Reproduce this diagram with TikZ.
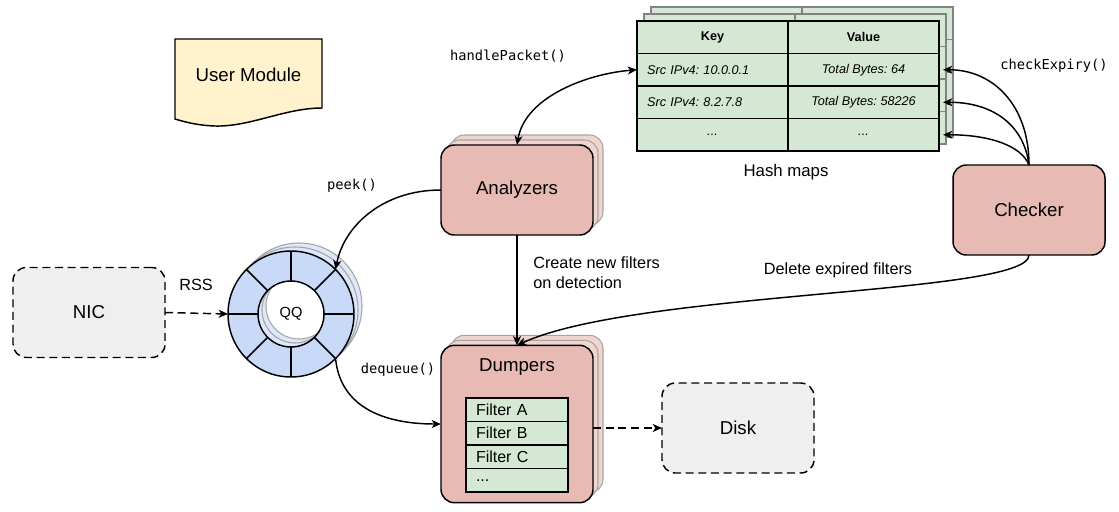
\documentclass[tikz,border=0pt]{standalone}
\usepackage{fontspec}
\setmainfont{Liberation Sans}
\newfontfamily\monofont{DejaVu Sans Mono}
\usetikzlibrary{arrows.meta,shadows}
\definecolor{salmon}{RGB}{232,186,180}
\definecolor{salmonback}{RGB}{242,212,207}
\definecolor{greenfill}{RGB}{213,232,212}
\definecolor{bluefill}{RGB}{201,218,248}
\definecolor{blueback}{RGB}{222,232,250}
\definecolor{grayfill}{RGB}{239,239,239}
\definecolor{docfill}{RGB}{255,242,204}
\definecolor{backstroke}{RGB}{165,165,165}
\definecolor{tabback}{RGB}{130,130,130}
\begin{document}
\frenchspacing
\begin{tikzpicture}[x=0.75pt,y=-0.75pt,
  font=\fontsize{14pt}{16pt}\selectfont,
  plainbox/.style={draw, line width=1.1pt, rounded corners=10pt, fill=salmon,
    minimum width=114pt, minimum height=67.5pt, inner sep=0pt, outer sep=0pt},
  stackbox/.style={plainbox,
    general shadow={shadow xshift=7.5pt, shadow yshift=7.5pt, fill=salmonback, draw=backstroke, line width=0.8pt},
    general shadow={shadow xshift=3.75pt, shadow yshift=3.75pt, fill=salmonback, draw=backstroke, line width=0.8pt}},
  dashbox/.style={draw, line width=1.1pt, dash pattern=on 6pt off 3.5pt, rounded corners=10pt, fill=grayfill,
    minimum width=114pt, minimum height=67.5pt, inner sep=0pt, outer sep=0pt},
  cell/.style={draw, line width=1.1pt, fill=greenfill, minimum width=113.25pt, minimum height=24.4pt,
    inner sep=0pt, outer sep=0pt, font=\fontsize{9.5pt}{11pt}\selectfont},
  keycell/.style={cell, text width=98pt, inner xsep=7.6pt, align=left, font=\fontsize{9.5pt}{11pt}\selectfont\itshape},
  valcell/.style={cell, font=\fontsize{9.5pt}{11pt}\selectfont\itshape},
  fcell/.style={draw, line width=1.1pt, fill=greenfill, minimum width=76.5pt, minimum height=17.6pt,
    text width=61.5pt, inner xsep=7.5pt, inner ysep=0pt, outer sep=0pt, align=left,
    font=\fontsize{12pt}{13pt}\selectfont},
  tip/.tip={Stealth[length=7pt,width=6pt,inset=2pt]},
  arr/.style={line width=1.1pt, -tip},
  dasharr/.style={arr, dash pattern=on 6pt off 3.5pt},
  lbl/.style={font=\fontsize{12.2pt}{15pt}\selectfont, inner sep=0pt},
  code/.style={font=\monofont\fontsize{10.3pt}{12pt}\selectfont, inner sep=0pt},
]
\useasboundingbox (0,0) rectangle (1119,511);

% ---------- User Module (document shape)
\draw[line width=1.1pt, fill=docfill] (175,39) -- (322,39) -- (322,108)
  .. controls (285,108) and (250,127) .. (215,126)
  .. controls (198,125.5) and (185,122) .. (175,119) -- cycle;
\node (um) at (248.5,75) {User Module};

% ---------- Hash maps (stacked tables)
\foreach \o in {14,7} {
  \begin{scope}[shift={(\o,-\o)}]
    \draw[tabback, line width=0.9pt, fill=greenfill] (637,21) rectangle (939,151);
    \draw[tabback, line width=0.9pt] (788,21) -- (788,151)
      (637,53.5) -- (939,53.5) (637,86) -- (939,86) (637,118.5) -- (939,118.5);
  \end{scope}
}
\node[cell] (k0) at (712.5,37.25) {\textbf{Key}};
\node[cell] (v0) at (863.5,37.25) {\textbf{Value}};
\node[keycell] (k1) at (712.5,69.75) {Src IPv4: 10.0.0.1};
\node[valcell] (v1) at (863.5,69.75) {Total Bytes: 64};
\node[keycell] (k2) at (712.5,102.25) {Src IPv4: 8.2.7.8};
\node[valcell] (v2) at (863.5,102.25) {Total Bytes: 58226};
\node[keycell, align=center] (k3) at (712.5,134.75) {...};
\node[valcell] (v3) at (863.5,134.75) {...};
\node[lbl, font=\fontsize{12.6pt}{15pt}\selectfont] (hm) at (786,172) {Hash maps};

% ---------- Boxes
\node[stackbox] (ana) at (517,190) {Analyzers};
\node[plainbox] (chk) at (1029,210) {Checker};
\node[stackbox, minimum height=118pt] (dump) at (517,424) {};
\node (dumplbl) at (517,367) {Dumpers};
\node[fcell] (f1) at (517,409.75) {Filter A};
\node[fcell] (f2) at (517,433.25) {Filter B};
\node[fcell] (f3) at (517,456.75) {Filter C};
\node[fcell] (f4) at (517,480.25) {...};
\node[dashbox] (nic) at (89,312.5) {NIC};
\node[dashbox] (disk) at (738,428) {Disk};

% ---------- Queue ring
\coordinate (qc) at (291,314);
\foreach \o in {8,4} {
  \draw[backstroke, line width=0.8pt, fill=blueback, even odd rule]
    ([shift={(\o,-\o)}]qc) circle[radius=47.25pt]
    ([shift={(\o,-\o)}]qc) circle[radius=24.75pt];
}
\draw[line width=1.1pt, fill=bluefill, even odd rule]
  (qc) circle[radius=47.25pt] (qc) circle[radius=24.75pt];
\foreach \a in {0,45,...,315}
  \draw[line width=1.1pt] ([shift={(\a:24.75pt)}]qc) -- ([shift={(\a:47.25pt)}]qc);
\node[circle, minimum size=94.5pt, inner sep=0pt, outer sep=0pt,
  font=\fontsize{11pt}{13pt}\selectfont] (qq) at (qc) {QQ};

% ---------- Connectors
\draw[dasharr] (nic.east) -- (qq.west);
\node[lbl] (rss) at (196,285) {RSS};

\draw[arr] (ana.west) .. controls +(-60,0) and +(8,-42) .. (qq.45);
\node[code] (peek) at (352,186) {peek()};

\draw[arr] (qq.-45) .. controls +(5,50) and +(-55,0) .. (dump.west);
\node[code] (deq) at (398,370) {dequeue()};

\draw[line width=1.1pt, tip-tip] (ana.north) .. controls +(8,-48) and +(-50,4) .. (k1.west);
\node[code] (hp) at (508,56) {handlePacket()};

\draw[arr] (ana.south) -- (dump.north);
\node[lbl, anchor=west, align=left] (create) at (533,273) {Create new filters\\on detection};

\draw[arr] (chk.south) .. controls +(0,40) and +(120,-55) .. (dump.north);
\node[lbl] (del) at (838,270) {Delete expired filters};

\draw[arr] (chk.north) .. controls +(0,-60) and +(50,0) .. ([xshift=3pt]v1.east);
\draw[arr] (chk.north) .. controls +(-5,-40) and +(50,0) .. ([xshift=3pt]v2.east);
\draw[arr] (chk.north) .. controls +(-8,-20) and +(45,0) .. ([xshift=3pt]v3.east);
\node[code] (ce) at (1054,66) {checkExpiry()};

\draw[dasharr] (dump.east |- disk.west) -- (disk.west);
\end{tikzpicture}
\end{document}
